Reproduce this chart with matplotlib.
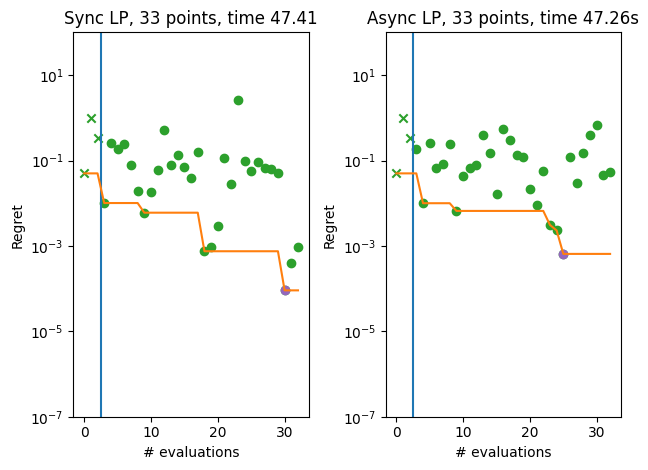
import numpy as np
import matplotlib.pyplot as plt

# initial design points (shown as crosses), same for both runs
init_x = [0, 1, 2]
init_regret = [0.05, 1.0, 0.33]

# regret of each evaluation after the initial design
sync_regret = [0.0101, 0.26, 0.19, 0.25, 0.079, 0.019, 0.006, 0.018, 0.061, 0.51,
               0.079, 0.136, 0.072, 0.040, 0.16, 0.00075, 0.00095, 0.003, 0.116,
               0.028, 2.68, 0.10, 0.058, 0.093, 0.067, 0.062, 0.051, 9.1e-5,
               0.0004, 0.00093]
async_regret = [0.19, 0.01, 0.26, 0.066, 0.084, 0.25, 0.0066, 0.044, 0.068, 0.079,
                0.40, 0.15, 0.0166, 0.56, 0.31, 0.136, 0.12, 0.0216, 0.0092, 0.057,
                0.0031, 0.0023, 0.00065, 0.12, 0.030, 0.15, 0.40, 0.69, 0.046,
                0.055]

titles = ["Sync LP, 33 points, time 47.41", "Async LP, 33 points, time 47.26s"]


def plot_run(ax, regret, title):
    all_regret = np.array(init_regret + regret)
    n = len(all_regret)
    xs = np.arange(n)
    n_init = len(init_x)

    ax.axvline(n_init - 0.5, color='C0')
    ax.scatter(init_x, init_regret, marker='x', color='C2')
    ax.scatter(xs[n_init:], all_regret[n_init:], color='C2')
    ax.plot(xs, np.minimum.accumulate(all_regret), color='C1')
    best = np.argmin(all_regret)
    ax.scatter([xs[best]], [all_regret[best]], color='C4')

    ax.set_yscale('log')
    ax.set_ylim(1e-7, 1e2)
    ax.set_xlabel('# evaluations')
    ax.set_ylabel('Regret')
    ax.set_title(title)


fig, axes = plt.subplots(1, 2, figsize=(6.48, 4.70), dpi=100)
plot_run(axes[0], sync_regret, titles[0])
plot_run(axes[1], async_regret, titles[1])
fig.subplots_adjust(left=0.1134, right=0.958, top=0.931, bottom=0.1134, wspace=0.327)
plt.savefig('out.png')
